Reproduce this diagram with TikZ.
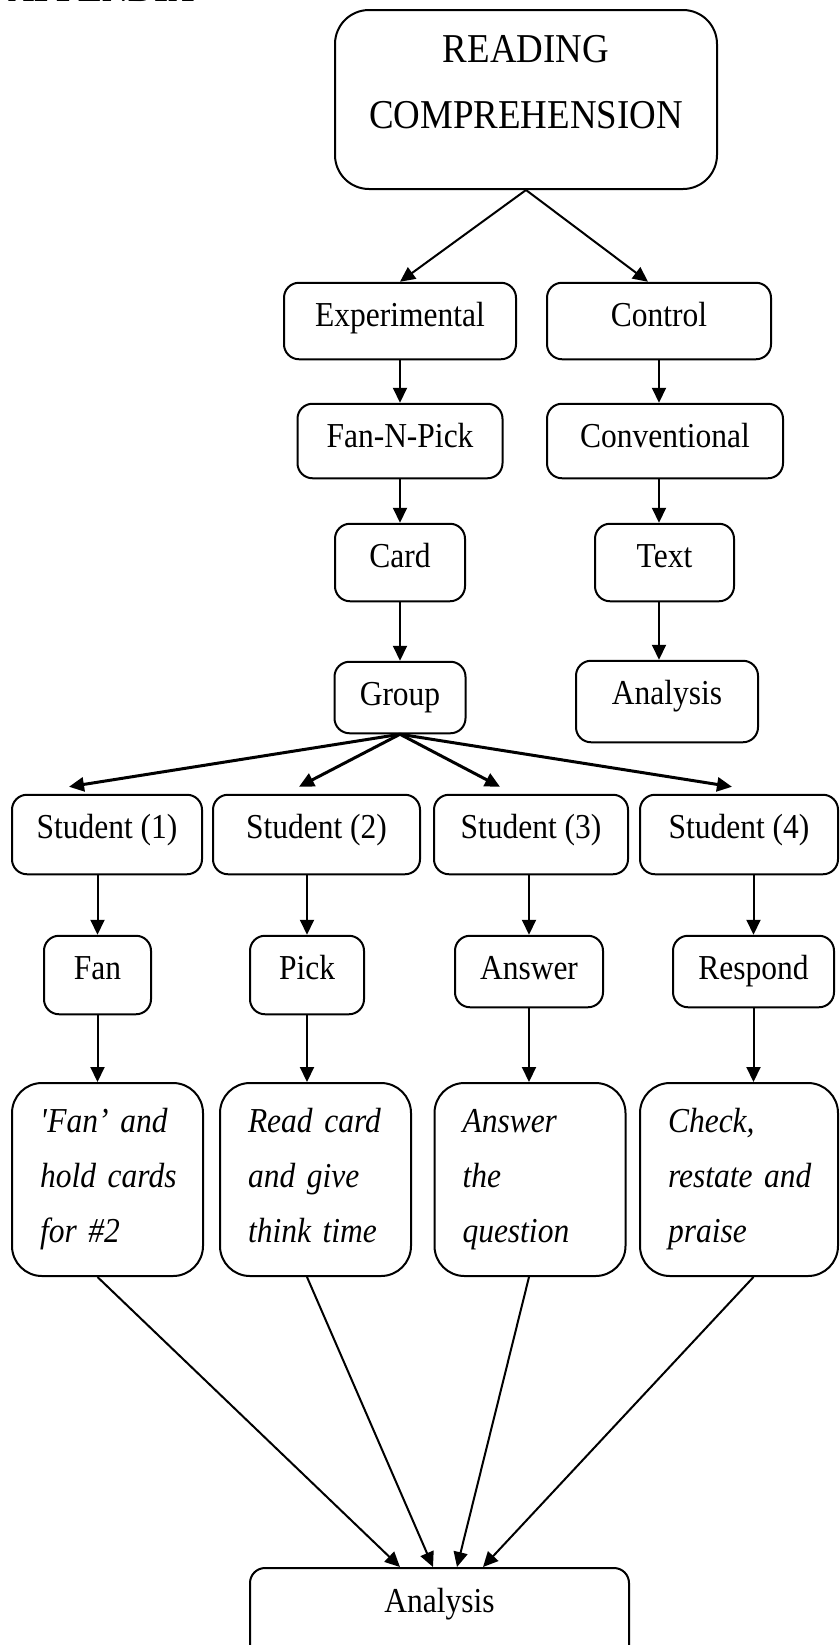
\documentclass[tikz,border=0pt]{standalone}
\usepackage{fontspec}
\setmainfont{Liberation Serif}[FakeStretch=0.9]
\usetikzlibrary{arrows.meta}

\begin{document}
\begin{tikzpicture}[x=0.5pt,y=-0.5pt,>={Triangle[length=7.5pt,width=7pt]},
  every node/.style={font=\fontsize{17.5}{21}\selectfont},
  box/.style={draw,line width=1pt,rounded corners=7.5pt,inner sep=0pt,text height=21.75pt},
  note/.style={draw,line width=1pt,rounded corners=15pt,inner xsep=14pt,inner ysep=0pt,align=left,text width=67.5pt,text height=24.5pt,text depth=72pt,font=\fontsize{17.5}{27.5}\selectfont\itshape},
  arr/.style={->,line width=1pt},
  spread/.style={->,line width=1.5pt}]
\useasboundingbox[fill=white] (0,0) rectangle (840,1645);
\clip (0,0) rectangle (840,1645);
\node[font=\fontsize{20}{24}\selectfont\bfseries,anchor=base west,inner sep=0pt] (app) at (8,1) {APPENDIX};
% top of the tree
\node[box,rounded corners=17pt,align=center,text width=191pt,text height=26pt,text depth=63.5pt,font=\fontsize{20.5}{33}\selectfont] (rc) at (526,99.5) {READING\\COMPREHENSION};
\node[box,minimum width=116pt,text depth=16.5pt] (exp) at (400,321) {Experimental};
\node[box,minimum width=112pt,text depth=16.5pt] (ctl) at (659,321) {Control};
\node[box,minimum width=102.5pt,text depth=15.5pt] (fnp) at (400,441) {Fan-N-Pick};
\node[box,minimum width=118pt,text depth=15.5pt] (conv) at (665,441) {Conventional};
\node[box,minimum width=65pt,text depth=17pt] (card) at (400,562.5) {Card};
\node[box,minimum width=69.5pt,text depth=17pt] (txt) at (664.5,562.5) {Text};
\node[box,minimum width=65.5pt,text depth=14pt] (grp) at (400,697.5) {Group};
\node[box,minimum width=91pt,text depth=19pt] (ana) at (667,701.5) {Analysis};
% the four students
\node[box,minimum width=95pt,text depth=18pt] (s1) at (107,834.5) {Student (1)};
\node[box,minimum width=103.5pt,text depth=18pt] (s2) at (316.5,834.5) {Student (2)};
\node[box,minimum width=97pt,text depth=18pt] (s3) at (531,834.5) {Student (3)};
\node[box,minimum width=99pt,text depth=18pt] (s4) at (739,834.5) {Student (4)};
\node[box,minimum width=53.5pt,text depth=17.5pt] (f1) at (97.5,975) {Fan};
\node[box,minimum width=57pt,text depth=17.5pt] (f2) at (307,975) {Pick};
\node[box,minimum width=74pt,text depth=14pt] (f3) at (529,971.5) {Answer};
\node[box,minimum width=80.5pt,text depth=14pt] (f4) at (753.5,971.5) {Respond};
\node[note] (d1) at (107.5,1179.5) {\mbox{\textquotesingle Fan’ and}\\\mbox{hold cards}\\\mbox{for \#2}};
\node[note] (d2) at (315.5,1179.5) {\mbox{Read card}\\\mbox{and give}\\\mbox{think time}};
\node[note] (d3) at (530,1179.5) {Answer\\the\\question};
\node[note,text width=71pt] (d4) at (739,1179.5) {\mbox{Check,}\\\mbox{restate and}\\\mbox{praise}};
\node[box,minimum width=189.5pt,text height=22pt,text depth=30pt] (fin) at (439.5,1620) {Analysis};
% connectors
\draw[arr] (rc.south) -- (exp.north);
\draw[arr] (rc.south) -- ([xshift=-5.5pt]ctl.north);
\draw[arr] (exp) -- (fnp);
\draw[arr] (fnp) -- (card);
\draw[arr] (card) -- (grp);
\draw[arr] (ctl) -- (ctl |- conv.north);
\draw[arr] (ctl |- conv.south) -- (ctl |- txt.north);
\draw[arr] (ctl |- txt.south) -- (ctl |- ana.north);
\draw[spread] (grp.south) -- ([xshift=-19pt,yshift=3.5pt]s1.north);
\draw[spread] (grp.south) -- ([xshift=-8.75pt,yshift=3.5pt]s2.north);
\draw[spread] (grp.south) -- ([xshift=-15.5pt,yshift=3.5pt]s3.north);
\draw[spread] (grp.south) -- ([xshift=-3.5pt,yshift=3.5pt]s4.north);
\draw[arr] (s1.south -| f1) -- (f1.north);
\draw[arr] (s2.south -| f2) -- (f2.north);
\draw[arr] (s3.south -| f3) -- (f3.north);
\draw[arr] (s4.south -| f4) -- (f4.north);
\draw[arr] (f1) -- (f1 |- d1.north);
\draw[arr] (f2) -- (f2 |- d2.north);
\draw[arr] (f3) -- (f3 |- d3.north);
\draw[arr] (f4) -- (f4 |- d4.north);
\draw[arr] (f1 |- d1.south) -- ([xshift=-19.75pt]fin.north);
\draw[arr] (f2 |- d2.south) -- ([xshift=-3.25pt]fin.north);
\draw[arr] (f3 |- d3.south) -- ([xshift=8.75pt]fin.north);
\draw[arr] (f4 |- d4.south) -- ([xshift=21.75pt]fin.north);
\end{tikzpicture}
\end{document}
